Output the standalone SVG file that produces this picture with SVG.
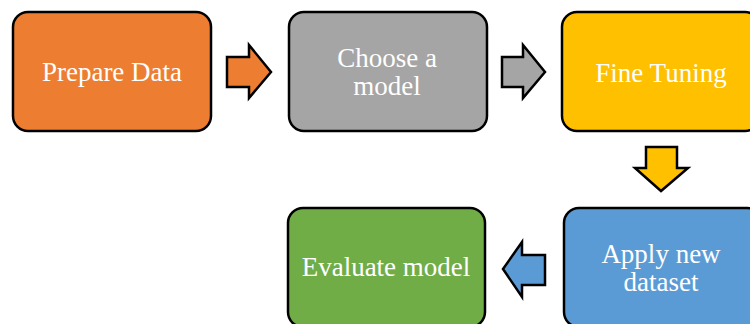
<svg xmlns="http://www.w3.org/2000/svg" width="750" height="324" viewBox="0 0 750 324">
<style>
.box{stroke:#000;stroke-width:2.5}
.lbl{font-family:"Liberation Serif","Times New Roman",serif;font-size:27px;fill:#fff;text-anchor:middle}
.arr{stroke:#000;stroke-width:2.5;stroke-linejoin:miter}
</style>
<rect width="750" height="324" fill="#fff"/>
<g id="prepare">
<rect class="box" x="13" y="12" width="198" height="119" rx="15" fill="#ED7D31"/>
<text class="lbl" x="112" y="81">Prepare Data</text>
</g>
<g id="choose">
<rect class="box" x="289" y="12" width="198" height="119" rx="15" fill="#A5A5A5"/>
<text class="lbl" x="387" y="67">Choose a</text>
<text class="lbl" x="387" y="95">model</text>
</g>
<g id="fine">
<rect class="box" x="562" y="12" width="198" height="119" rx="15" fill="#FFC000"/>
<text class="lbl" x="661" y="82">Fine Tuning</text>
</g>
<g id="apply">
<rect class="box" x="564" y="208" width="198" height="119" rx="15" fill="#5B9BD5"/>
<text class="lbl" x="661" y="263">Apply new</text>
<text class="lbl" x="661" y="291">dataset</text>
</g>
<g id="evaluate">
<rect class="box" x="288" y="208" width="197" height="119" rx="15" fill="#70AD47"/>
<text class="lbl" x="386" y="276">Evaluate model</text>
</g>
<g id="connectors">
<polygon class="arr" fill="#ED7D31" points="227,57 249,57 249,45 271,72 249,98 249,87 227,87"/>
<polygon class="arr" fill="#A5A5A5" points="502,57 523,57 523,45 545,72 523,98 523,87 502,87"/>
<polygon class="arr" fill="#FFC000" points="646,147 677,147 677,168 688,168 661,191 635,168 646,168"/>
<polygon class="arr" fill="#5B9BD5" points="545,255 522,255 522,242 503,269 522,297 522,285 545,285"/>
</g>
</svg>
